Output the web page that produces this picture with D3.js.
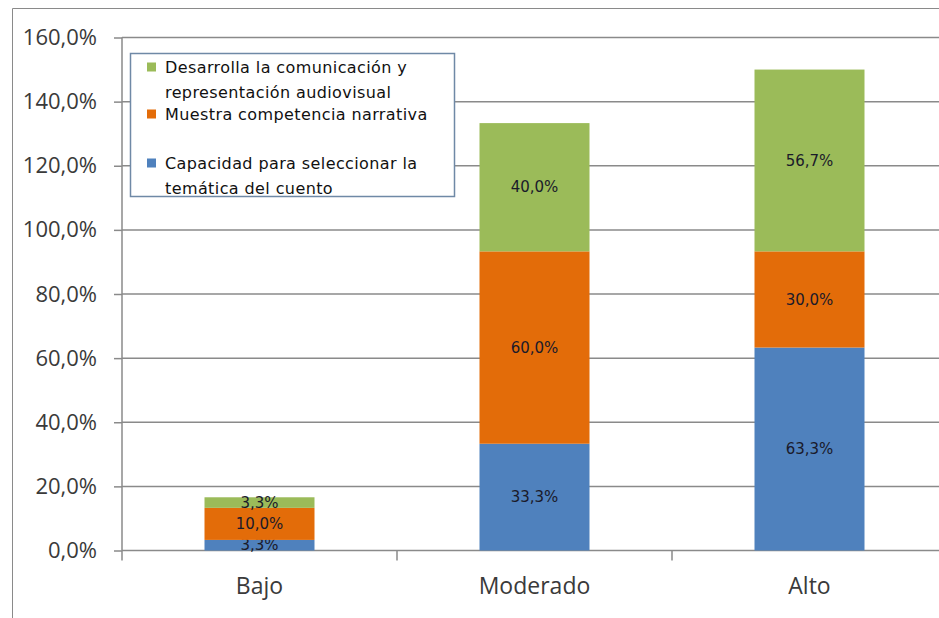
<!DOCTYPE html>
<html>
<head>
<meta charset="utf-8">
<script src="https://cdn.jsdelivr.net/npm/d3@7"></script>
<style>
  body { margin: 0; background: #fff; }
  svg { display: block; }
</style>
</head>
<body>
<svg id="chart" width="939" height="618"></svg>
<script>
'use strict';

// chart data
var categories = ["Bajo", "Moderado", "Alto"];
var seriesNames = [
  "Capacidad para seleccionar la temática del cuento",
  "Muestra competencia narrativa",
  "Desarrolla la comunicación y representación audiovisual"
];
var capacidad = [3.3, 33.3, 63.3];
var competencia = [10.0, 60.0, 30.0];
var desarrolla = [3.3, 40.0, 56.7];
var yTicks = [0, 20, 40, 60, 80, 100, 120, 140, 160];

var colors = ["#4F81BD", "#E36C09", "#9BBB59"];

// legend lines, top to bottom (green, orange, blue)
var legendItems = [
  {series: 2, lines: ["Desarrolla la comunicación y", "representación audiovisual"]},
  {series: 1, lines: ["Muestra competencia narrativa"]},
  {series: 0, lines: ["Capacidad para seleccionar la", "temática del cuento"]}
];

var svg = d3.select("#chart");
var fmt = function(v) { return v.toFixed(1).replace(".", ",") + "%"; };

var plotLeft = 122, plotRight = 947, plotTop = 37.5, plotBottom = 550.5;

var x = d3.scaleBand().domain(categories).range([plotLeft, plotRight])
  .paddingInner(0.6).paddingOuter(0.3);
var y = d3.scaleLinear().domain([0, 160]).range([plotBottom, plotTop]);

// outer frame
svg.append("path")
  .attr("d", "M12.5,618 V8.5 H939")
  .attr("fill", "none").attr("stroke", "#8a8a8a").attr("stroke-width", 1);

// gridlines + y ticks
var yAxis = d3.axisLeft(y).tickValues(yTicks).tickSize(8).tickPadding(17).tickFormat(fmt);
var gy = svg.append("g").attr("transform", "translate(" + plotLeft + ",0)").call(yAxis);
gy.select(".domain").attr("stroke", "#8a8a8a").attr("stroke-width", 1.5)
  .attr("d", "M0," + plotTop + "V" + plotBottom);
gy.selectAll(".tick line").attr("stroke", "#8a8a8a").attr("stroke-width", 1.5);
gy.selectAll(".tick text")
  .attr("font-family", "'Open Sans', sans-serif").attr("font-size", 22)
  .attr("fill", "#3a3a3a");

svg.append("g").selectAll("line").data(yTicks).enter().append("line")
  .attr("x1", plotLeft).attr("x2", 939)
  .attr("y1", function(d) { return y(d); }).attr("y2", function(d) { return y(d); })
  .attr("stroke", "#8a8a8a").attr("stroke-width", 1.5);

// category axis ticks at band boundaries
var step = x.step();
var bounds = categories.map(function(c) { return x(c) - step * 0.3; });
bounds.push(bounds[bounds.length - 1] + step);
svg.append("g").selectAll("line").data(bounds).enter().append("line")
  .attr("x1", function(d) { return d; }).attr("x2", function(d) { return d; })
  .attr("y1", plotBottom).attr("y2", plotBottom + 10)
  .attr("stroke", "#8a8a8a").attr("stroke-width", 1.5);

svg.append("g").selectAll("text").data(categories).enter().append("text")
  .attr("x", function(d) { return x(d) + x.bandwidth() / 2; })
  .attr("y", 594)
  .attr("text-anchor", "middle")
  .attr("font-family", "'Open Sans', sans-serif").attr("font-size", 23)
  .attr("fill", "#3a3a3a")
  .text(function(d) { return d; });

// stacked bars
var rows = categories.map(function(c, i) {
  return {cat: c, s0: capacidad[i], s1: competencia[i], s2: desarrolla[i]};
});
var stack = d3.stack().keys(["s0", "s1", "s2"]);
var layers = stack(rows);

var gl = svg.append("g").selectAll("g").data(layers).enter().append("g")
  .attr("fill", function(d, i) { return colors[i]; });

gl.selectAll("rect").data(function(d) { return d; }).enter().append("rect")
  .attr("x", function(d) { return x(d.data.cat); })
  .attr("width", x.bandwidth())
  .attr("y", function(d) { return y(d[1]); })
  .attr("height", function(d) { return y(d[0]) - y(d[1]); });

gl.selectAll("text").data(function(d) { return d; }).enter().append("text")
  .attr("x", function(d) { return x(d.data.cat) + x.bandwidth() / 2; })
  .attr("y", function(d) { return y((d[0] + d[1]) / 2); })
  .attr("dy", "0.35em")
  .attr("text-anchor", "middle")
  .attr("font-family", "'DejaVu Sans', sans-serif").attr("font-size", 15)
  .attr("fill", "#1a1a2a")
  .text(function(d) { return fmt(d[1] - d[0]); });

// legend
var legend = svg.append("g");
legend.append("rect")
  .attr("x", 130.5).attr("y", 53.5).attr("width", 324).attr("height", 143)
  .attr("fill", "#fff").attr("stroke", "#6F89A6").attr("stroke-width", 1.5);

var lineY = [67, 92, 114, 163, 188];
var li = 0;
legendItems.forEach(function(item) {
  legend.append("rect")
    .attr("x", 147).attr("y", lineY[li] - 4.5).attr("width", 9).attr("height", 9)
    .attr("fill", colors[item.series]);
  item.lines.forEach(function(t) {
    legend.append("text")
      .attr("x", 165).attr("y", lineY[li]).attr("dy", "0.35em")
      .attr("font-family", "'DejaVu Sans', sans-serif").attr("font-size", 16)
      .attr("letter-spacing", 0.4)
      .attr("fill", "#111")
      .text(t);
    li++;
  });
});
</script>
</body>
</html>
